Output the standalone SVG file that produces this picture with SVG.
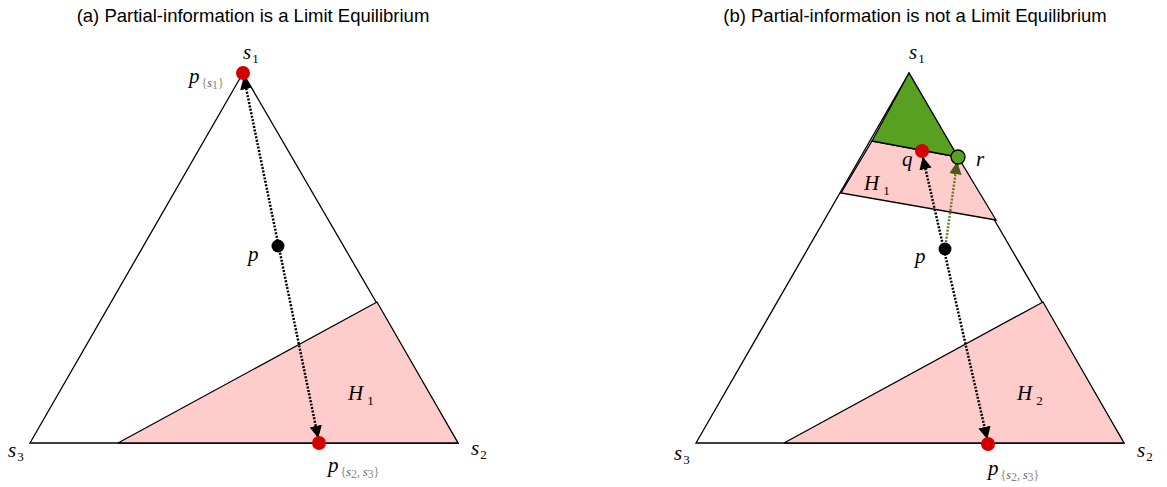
<svg xmlns="http://www.w3.org/2000/svg" width="1167" height="487" viewBox="0 0 1167 487">
<defs>
<marker id="ah" viewBox="0 0 10 10" refX="9" refY="5" markerWidth="5" markerHeight="5" orient="auto-start-reverse" markerUnits="strokeWidth"><path d="M0,0 L10,5 L0,10 z" fill="#000"/></marker>
<marker id="ahg" viewBox="0 0 10 10" refX="9" refY="5" markerWidth="5" markerHeight="5" orient="auto" markerUnits="strokeWidth"><path d="M0,0 L10,5 L0,10 z" fill="#4d5a1a"/></marker>
<style>
.title{font-family:"Liberation Sans",Arial,sans-serif;font-size:18.5px;fill:#000}
.m{font-family:"Liberation Serif","Times New Roman",serif;font-style:italic;font-size:21px;fill:#000}
.sub{font-size:13px;font-style:normal}
.subi{font-size:12px;font-style:italic;fill:#555}
.br{font-style:normal;fill:#888;font-size:12px}
.tri{fill:none;stroke:#000;stroke-width:1.3}
.pink{fill:#ffcccc;stroke:#000;stroke-width:1.3}
.green{fill:#57a020;stroke:#000;stroke-width:1.3}
.dot{stroke:#000;stroke-width:2.5;stroke-dasharray:2 1.5;fill:none}
.dotg{stroke:#6b7a2a;stroke-width:2.5;stroke-dasharray:2 1.5;fill:none}
.red{fill:#d40000}
</style>
</defs>
<text class="title" x="253" y="22" text-anchor="middle">(a) Partial-information is a Limit Equilibrium</text>
<text class="title" x="915" y="22" text-anchor="middle">(b) Partial-information is not a Limit Equilibrium</text>

<g id="panel-a">
<g id="a-triangle"><polygon class="tri" points="243,73 30,443 458,443"/></g>
<g id="a-H1"><polygon class="pink" points="118,443 458,443 377,302"/>
<text class="m" x="348" y="400">H<tspan class="sub" dx="4" dy="5">1</tspan></text></g>
<g id="a-s1"><text class="m" x="243" y="59">s<tspan class="sub" dx="1" dy="4">1</tspan></text></g>
<g id="a-s2"><text class="m" x="471" y="455">s<tspan class="sub" dx="1" dy="4">2</tspan></text></g>
<g id="a-s3"><text class="m" x="8" y="457">s<tspan class="sub" dx="1" dy="4">3</tspan></text></g>
</g>

<g id="panel-b">
<g id="b-triangle"><polygon class="tri" points="909,73 696,443 1124,443"/></g>
<g id="b-H1"><polygon class="pink" points="872,141 958,157 996,220 841,193"/>
<text class="m" x="864" y="190">H<tspan class="sub" dx="4" dy="5">1</tspan></text></g>
<g id="b-green"><polygon class="green" points="909,73 872,141 958,157"/></g>
<g id="b-H2"><polygon class="pink" points="784,443 1124,443 1043,302"/>
<text class="m" x="1017" y="400">H<tspan class="sub" dx="4" dy="5">2</tspan></text></g>
<g id="b-s1"><text class="m" x="909" y="59">s<tspan class="sub" dx="1" dy="4">1</tspan></text></g>
<g id="b-s2"><text class="m" x="1137" y="457">s<tspan class="sub" dx="1" dy="4">2</tspan></text></g>
<g id="b-s3"><text class="m" x="674" y="460">s<tspan class="sub" dx="1" dy="4">3</tspan></text></g>
</g>

<g id="connectors">
<line class="dot" x1="244" y1="78" x2="318" y2="437" marker-start="url(#ah)" marker-end="url(#ah)"/>
<line class="dot" x1="923" y1="158" x2="987" y2="438" marker-start="url(#ah)" marker-end="url(#ah)"/>
<line class="dotg" x1="945" y1="249" x2="957" y2="163" marker-end="url(#ahg)"/>
</g>

<g id="a-ps1"><circle class="red" cx="243" cy="73" r="7"/>
<text class="m" x="189" y="83" font-size="23">p<tspan class="br" dx="2" dy="4">{</tspan><tspan class="subi">s</tspan><tspan class="br" font-size="8" dy="2">1</tspan><tspan class="br" dy="-2">}</tspan></text></g>
<g id="a-p"><circle cx="278" cy="246" r="6.5" fill="#000"/>
<text class="m" x="248" y="261">p</text></g>
<g id="a-ps23"><circle class="red" cx="319" cy="443" r="7"/>
<text class="m" x="328" y="472" font-size="23">p<tspan class="br" dx="2" dy="4">{</tspan><tspan class="subi">s</tspan><tspan class="br" font-size="8" dy="2">2</tspan><tspan class="br" dy="-2">, </tspan><tspan class="subi">s</tspan><tspan class="br" font-size="8" dy="2">3</tspan><tspan class="br" dy="-2">}</tspan></text></g>

<g id="b-q"><circle class="red" cx="922" cy="151" r="7"/>
<text class="m" x="902" y="166">q</text></g>
<g id="b-r"><circle cx="958" cy="157" r="7" fill="#57a020" stroke="#000" stroke-width="1.3"/>
<text class="m" x="976" y="166">r</text></g>
<g id="b-p"><circle cx="945" cy="249" r="6.5" fill="#000"/>
<text class="m" x="915" y="263">p</text></g>
<g id="b-ps23"><circle class="red" cx="988" cy="444" r="7"/>
<text class="m" x="988" y="475" font-size="23">p<tspan class="br" dx="2" dy="4">{</tspan><tspan class="subi">s</tspan><tspan class="br" font-size="8" dy="2">2</tspan><tspan class="br" dy="-2">, </tspan><tspan class="subi">s</tspan><tspan class="br" font-size="8" dy="2">3</tspan><tspan class="br" dy="-2">}</tspan></text></g>
</svg>
